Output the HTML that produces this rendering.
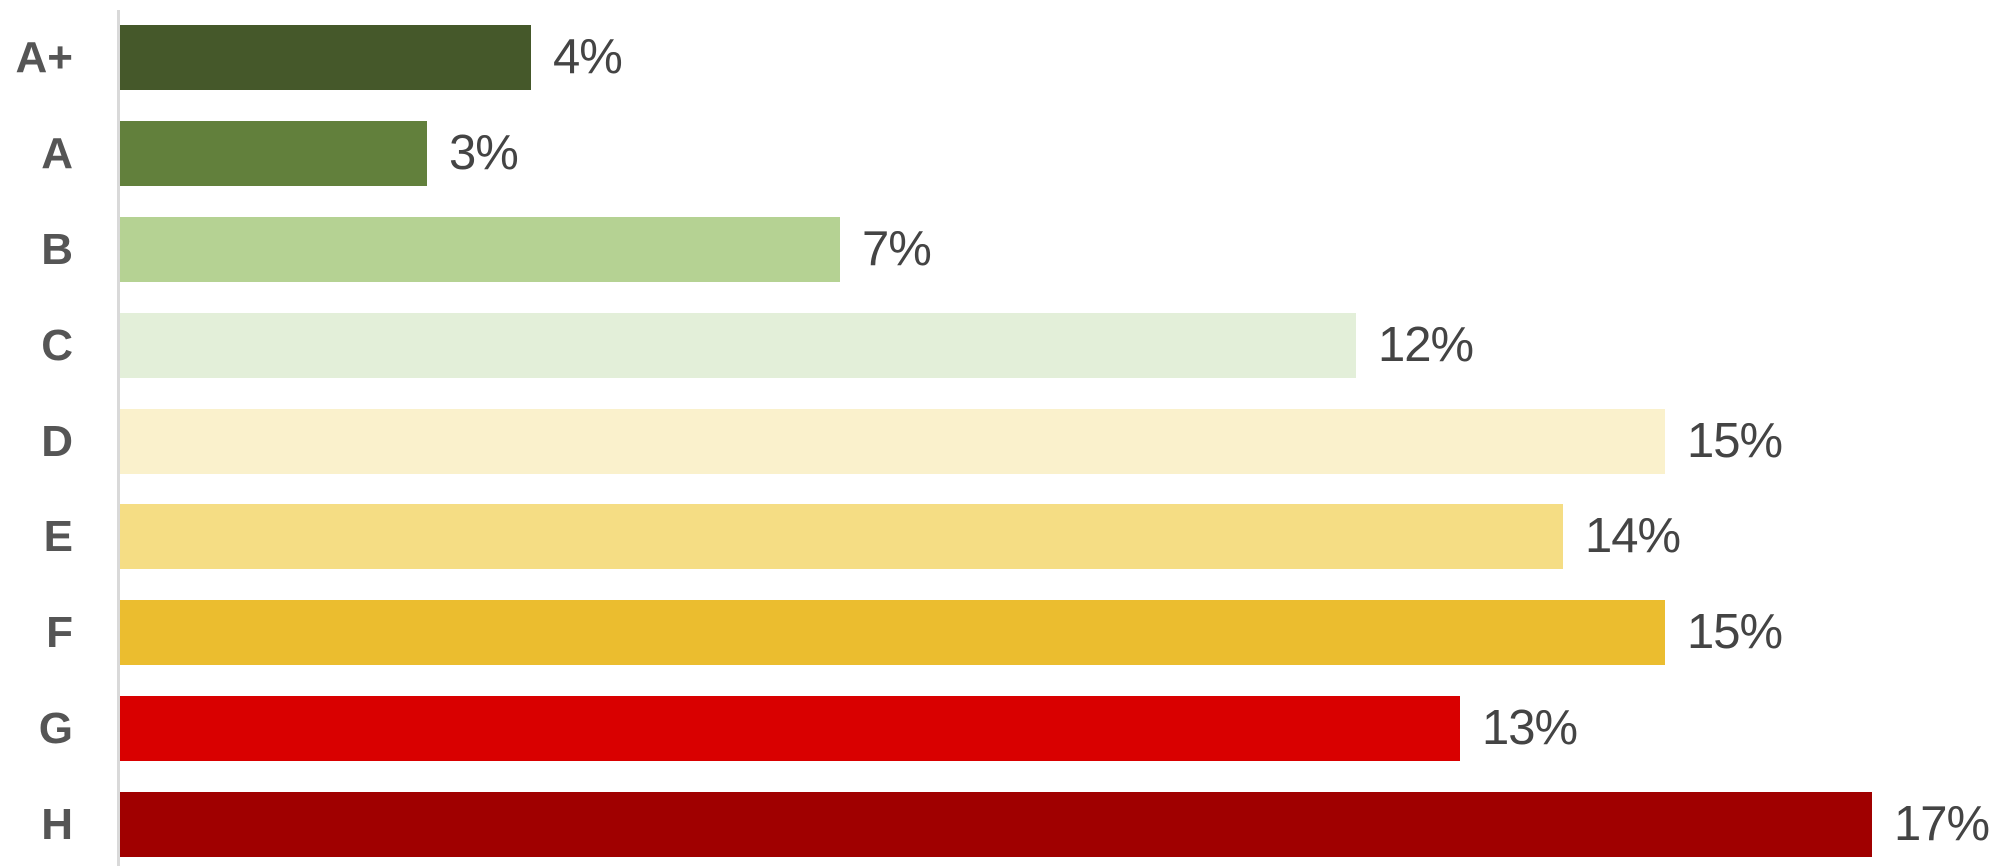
<!DOCTYPE html>
<html><head><style>
html,body{margin:0;padding:0;background:#fff;}
#c{position:relative;width:2005px;height:866px;overflow:hidden;font-family:"Liberation Sans",sans-serif;}
.ax{position:absolute;left:117px;top:10px;width:3px;height:856px;background:#d9d9d9;}
.bar{position:absolute;left:120px;height:65px;}
.cat{position:absolute;right:1932px;width:100px;text-align:right;font-weight:bold;font-size:44px;color:#555;line-height:65px;}
.val{position:absolute;font-size:49px;color:#444;line-height:65px;letter-spacing:-1px;}
</style></head><body><div id="c">
<div class="ax"></div>

<div class="cat" style="top:25px">A+</div><div class="bar" style="top:25px;width:411px;background:#45582a"></div><div class="val" style="top:25px;left:553px">4%</div>
<div class="cat" style="top:121px">A</div><div class="bar" style="top:121px;width:307px;background:#62803c"></div><div class="val" style="top:121px;left:449px">3%</div>
<div class="cat" style="top:217px">B</div><div class="bar" style="top:217px;width:720px;background:#b5d293"></div><div class="val" style="top:217px;left:862px">7%</div>
<div class="cat" style="top:313px">C</div><div class="bar" style="top:313px;width:1236px;background:#e3efd9"></div><div class="val" style="top:313px;left:1378px">12%</div>
<div class="cat" style="top:409px">D</div><div class="bar" style="top:409px;width:1545px;background:#faf1cc"></div><div class="val" style="top:409px;left:1687px">15%</div>
<div class="cat" style="top:504px">E</div><div class="bar" style="top:504px;width:1443px;background:#f5dd84"></div><div class="val" style="top:504px;left:1585px">14%</div>
<div class="cat" style="top:600px">F</div><div class="bar" style="top:600px;width:1545px;background:#ebbd2f"></div><div class="val" style="top:600px;left:1687px">15%</div>
<div class="cat" style="top:696px">G</div><div class="bar" style="top:696px;width:1340px;background:#d90000"></div><div class="val" style="top:696px;left:1482px">13%</div>
<div class="cat" style="top:792px">H</div><div class="bar" style="top:792px;width:1752px;background:#a00000"></div><div class="val" style="top:792px;left:1894px">17%</div>
</div></body></html>
